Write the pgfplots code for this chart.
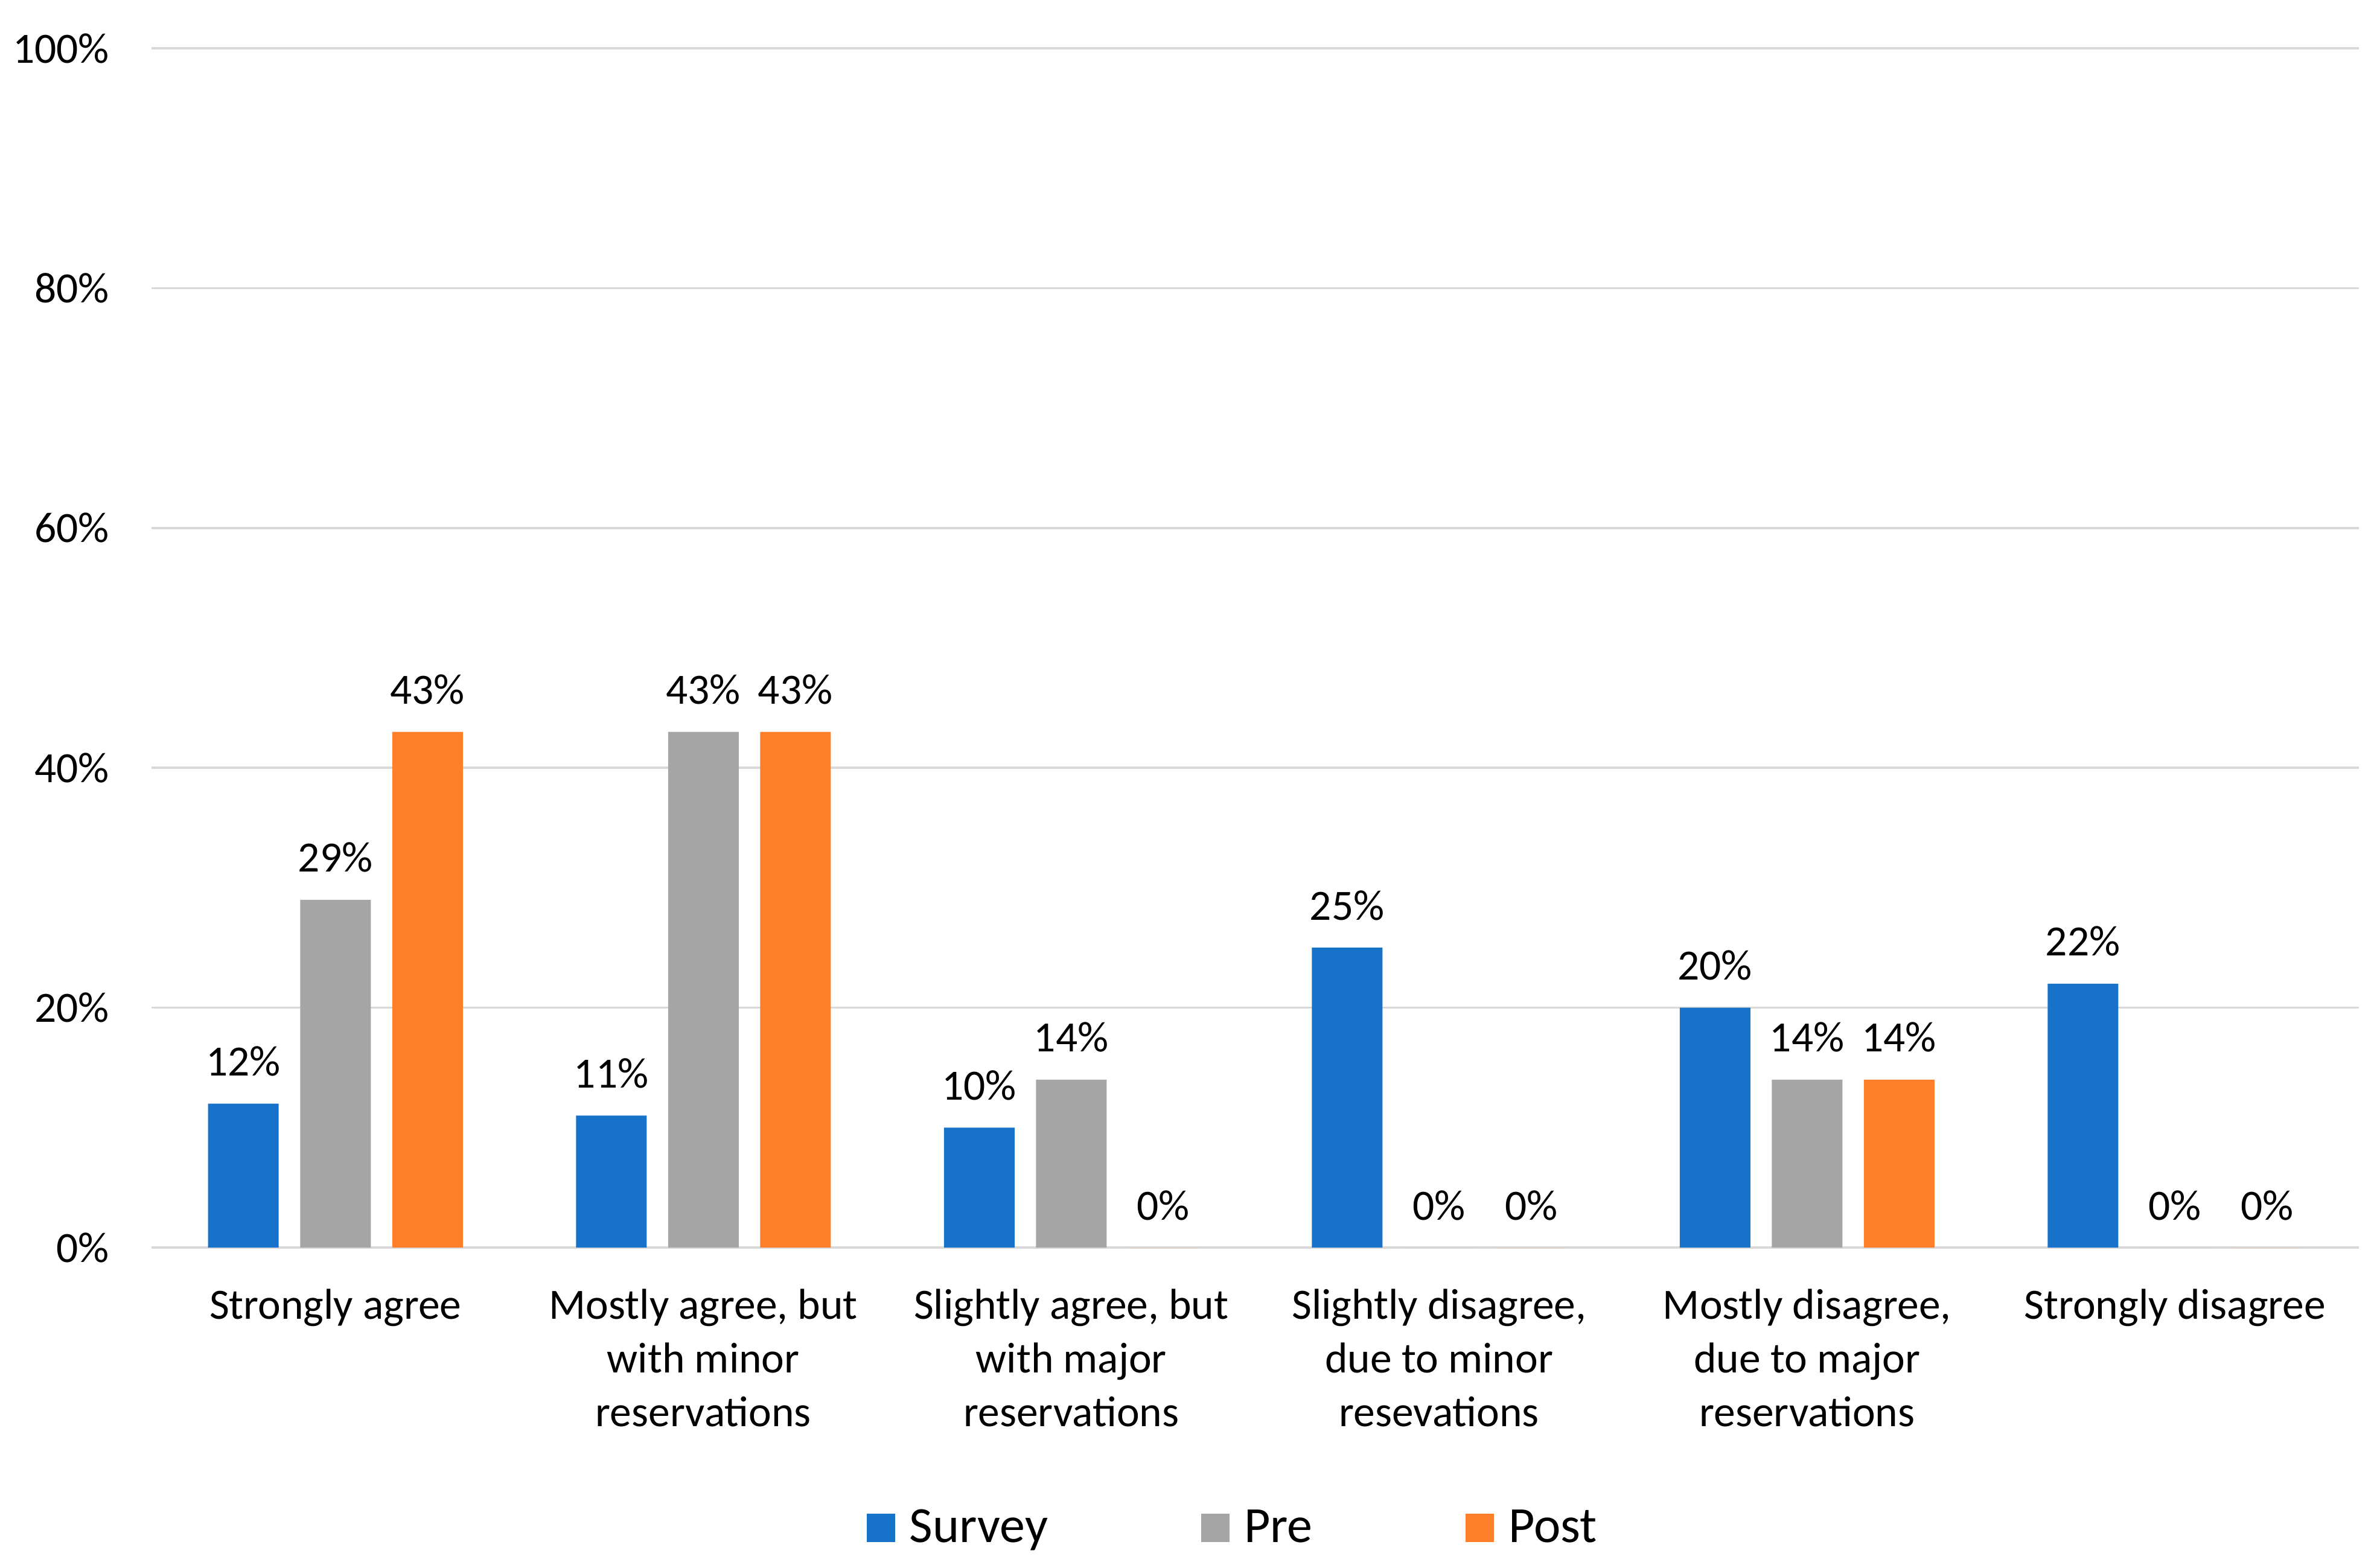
\documentclass[border=0pt]{standalone}
\usepackage{pgfplots}
\pgfplotsset{compat=1.18}
\usepackage{fontspec}
\setmainfont{Carlito}
\definecolor{cblue}{HTML}{1772C9}
\definecolor{cgray}{HTML}{A5A5A5}
\definecolor{corange}{HTML}{FE7F2A}
\definecolor{cgrid}{HTML}{D9D9D9}
\begin{document}
\begin{tikzpicture}
\begin{axis}[
  scale only axis, width=731.4pt, height=397.4pt,
  ybar=7.1pt, bar width=23.4pt,
  xmin=-0.5, xmax=5.5, ymin=0, ymax=100,
  xtick={0,1,2,3,4,5},
  xticklabels={Strongly agree,{Mostly agree, but\\with minor\\reservations},{Slightly agree, but\\with major\\reservations},{Slightly disagree,\\due to minor\\resevations},{Mostly disagree,\\due to major\\reservations},Strongly disagree},
  ytick={0,20,40,60,80,100},
  yticklabel={\pgfmathprintnumber{\tick}\%},
  /pgf/number format/assume math mode=true,
  major tick length=0pt,
  axis line style={draw=none},
  ymajorgrids, grid style={cgrid, line width=0.7pt},
  tick label style={font=\fontsize{14.3}{17.8}\selectfont},
  yticklabel style={anchor=east, inner sep=0pt, xshift=-13.8pt},
  xticklabel style={anchor=north, inner sep=0pt, align=center, yshift=-13.5pt},
  nodes near coords={\pgfmathprintnumber{\pgfplotspointmeta}\%},
  every node near coord/.append style={font=\fontsize{14.3}{17.8}\selectfont, anchor=base, inner sep=0pt, yshift=9.2pt, black},
  legend columns=3,
  legend style={draw=none, fill=none, inner sep=0pt, outer sep=0pt, at={(0.324,-0.2339)}, anchor=west,
    font=\fontsize{16.8}{20}\selectfont, nodes={inner sep=0pt}, cells={anchor=base},
    /tikz/every odd column/.append style={column sep=4.8pt},
    /tikz/every even column/.append style={column sep=50.8pt}},
  legend image code/.code={\fill[#1] (0pt,0pt) rectangle (9.4pt,9.4pt);},
]
\addplot[fill=cblue, draw=none] coordinates {(0,12) (1,11) (2,10) (3,25) (4,20) (5,22)};
\addplot[fill=cgray, draw=none] coordinates {(0,29) (1,43) (2,14) (3,0) (4,14) (5,0)};
\addplot[fill=corange, draw=none] coordinates {(0,43) (1,43) (2,0) (3,0) (4,14) (5,0)};
\legend{Survey,Pre,Post}
\end{axis}
\pgfresetboundingbox
\path[use as bounding box] (-50.2pt,-106pt) rectangle (736.4pt,413.4pt);
\end{tikzpicture}
\end{document}
